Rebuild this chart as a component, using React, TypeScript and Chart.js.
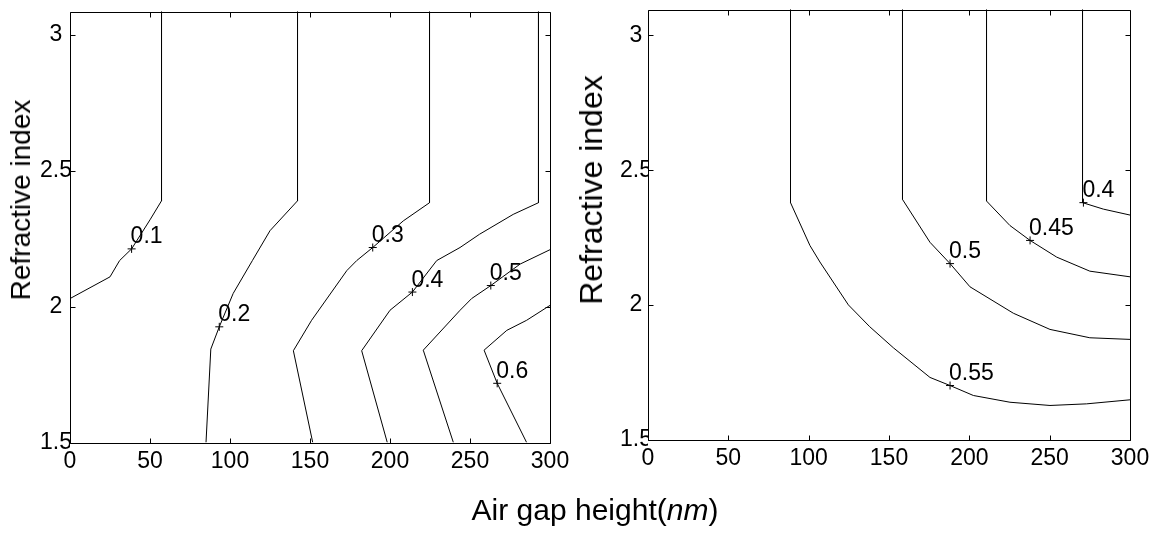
import React, { useEffect, useRef } from "react";
import { Chart, registerables } from "chart.js";

Chart.register(...registerables);

const FONT = "'Liberation Sans', Arial, Helvetica, sans-serif";

// Axis ticks
const xTicks = [0, 50, 100, 150, 200, 250, 300];
const yTicks = [1.5, 2, 2.5, 3];

// ---- Left panel contour lines ----
const leftX01 = [57.2, 57.2, 50, 38.5, 31, 25, 0];
const leftY01 = [3.1, 2.39, 2.32, 2.213, 2.17, 2.11, 2.03];
const leftX02 = [142.2, 142.2, 125, 114, 102, 93.3, 88, 85];
const leftY02 = [3.1, 2.39, 2.28, 2.17, 2.049, 1.926, 1.844, 1.5];
const leftX03 = [224.7, 224.7, 208.3, 189.2, 179.2, 173, 151, 139.6, 151.7];
const leftY03 = [3.1, 2.383, 2.316, 2.218, 2.17, 2.133, 1.95, 1.838, 1.5];
const leftX04 = [292.8, 292.8, 277, 256, 243.75, 229.2, 214, 200, 182.3, 198.3];
const leftY04 = [3.1, 2.383, 2.34, 2.267, 2.218, 2.17, 2.054, 1.987, 1.838, 1.5];
const leftX05 = [300, 281.3, 263, 251, 243.8, 220.8, 239.6];
const leftY05 = [2.21, 2.157, 2.078, 2.03, 1.987, 1.84, 1.5];
const leftX06 = [300, 285.4, 273, 258.8, 267, 285.4];
const leftY06 = [2.005, 1.95, 1.913, 1.84, 1.718, 1.5];

const leftLabelText = ["0.1", "0.2", "0.3", "0.4", "0.5", "0.6"];
const leftLabelX = [38.5, 93.3, 189.2, 214, 263, 267];
const leftLabelY = [2.213, 1.926, 2.218, 2.054, 2.078, 1.718];

// ---- Right panel contour lines ----
const rightX055 = [88.7, 88.7, 100.8, 107, 124.7, 138, 152.7, 175.5, 188, 202.5, 225.3, 250.2, 273, 300];
const rightY055 = [3.1, 2.38, 2.221, 2.16, 2.001, 1.92, 1.842, 1.732, 1.702, 1.665, 1.64, 1.628, 1.634, 1.649];
const rightX050 = [158.4, 158.4, 175.5, 188, 200.4, 227.4, 250.2, 275, 300];
const rightY050 = [3.1, 2.392, 2.233, 2.154, 2.068, 1.97, 1.91, 1.879, 1.873];
const rightX045 = [210.7, 210.7, 225.3, 237.8, 254.4, 275, 300];
const rightY045 = [3.1, 2.386, 2.295, 2.24, 2.178, 2.126, 2.105];
const rightX040 = [270.45, 270.45, 283.4, 300];
const rightY040 = [3.1, 2.38, 2.356, 2.334];

const rightLabelText = ["0.55", "0.5", "0.45", "0.4"];
const rightLabelX = [188, 188, 237.8, 271];
const rightLabelY = [1.702, 2.154, 2.24, 2.38];

const zip = (xs: number[], ys: number[]) => xs.map((x, i) => ({ x, y: ys[i] }));

type PanelProps = {
  lines: { x: number[]; y: number[] }[];
  labelText: string[];
  labelX: number[];
  labelY: number[];
  yMax: number;
  left: number;
  width: number;
  yPad: number;
  area: { left: number; top: number; right: number; bottom: number };
};

function ContourPanel(p: PanelProps) {
  const ref = useRef<HTMLCanvasElement | null>(null);
  useEffect(() => {
    if (!ref.current) return;
    const H = 537;
    const boxPlugin = {
      id: "boxTicks",
      afterDatasetsDraw(chart: any) {
        const ctx = chart.ctx;
        const { left, right, top, bottom } = chart.chartArea;
        const xs = chart.scales.x;
        const ys = chart.scales.y;
        const L = Math.round(left) + 0.5;
        const R = Math.round(right) + 0.5;
        const T = Math.round(top) + 0.5;
        const B = Math.round(bottom) + 0.5;
        ctx.save();
        ctx.strokeStyle = "#000";
        ctx.lineWidth = 1;
        ctx.beginPath();
        ctx.rect(L, T, R - L, B - T);
        xTicks.forEach((v) => {
          const px = Math.round(xs.getPixelForValue(v)) + 0.5;
          ctx.moveTo(px, B);
          ctx.lineTo(px, B - 5);
          ctx.moveTo(px, T);
          ctx.lineTo(px, T + 5);
        });
        yTicks.forEach((v) => {
          const py = Math.round(ys.getPixelForValue(v)) + 0.5;
          ctx.moveTo(L, py);
          ctx.lineTo(L + 5, py);
          ctx.moveTo(R, py);
          ctx.lineTo(R - 5, py);
        });
        ctx.stroke();
        // contour labels
        ctx.fillStyle = "#000";
        ctx.font = `23px ${FONT}`;
        ctx.textAlign = "left";
        ctx.textBaseline = "alphabetic";
        p.labelText.forEach((t, i) => {
          const px = xs.getPixelForValue(p.labelX[i]);
          const py = ys.getPixelForValue(p.labelY[i]);
          ctx.fillText(t, px - 1, py - 5.5);
        });
        ctx.restore();
      },
    };
    const datasets: any[] = p.lines.map((l) => ({
      data: zip(l.x, l.y),
      showLine: true,
      borderColor: "#000",
      borderWidth: 1,
      pointRadius: 0,
      tension: 0,
      fill: false,
    }));
    datasets.push({
      data: zip(p.labelX, p.labelY),
      showLine: false,
      pointStyle: "cross",
      pointRadius: 4,
      borderColor: "#000",
      borderWidth: 1,
      backgroundColor: "#000",
    });
    const chart = new Chart(ref.current, {
      type: "scatter",
      data: { datasets },
      options: {
        animation: false,
        responsive: false,
        maintainAspectRatio: false,
        layout: {
          padding: {
            left: 0,
            top: p.area.top,
            right: p.width - p.area.right,
            bottom: 0,
          },
        },
        plugins: { legend: { display: false }, tooltip: { enabled: false } },
        scales: {
          x: {
            type: "linear",
            min: 0,
            max: 300,
            grid: { display: false, drawTicks: false },
            border: { display: false },
            afterBuildTicks: (s: any) => {
              s.ticks = xTicks.map((v) => ({ value: v }));
            },
            afterFit: (s: any) => {
              s.height = H - p.area.bottom;
            },
            ticks: {
              color: "#000",
              padding: 5,
              font: { family: FONT, size: 23 },
              maxRotation: 0,
              autoSkip: false,
            },
          },
          y: {
            type: "linear",
            min: 1.5,
            max: p.yMax,
            grid: { display: false, drawTicks: false },
            border: { display: false },
            afterBuildTicks: (s: any) => {
              s.ticks = yTicks.map((v) => ({ value: v }));
            },
            afterFit: (s: any) => {
              s.width = p.area.left;
            },
            ticks: {
              color: "#000",
              padding: p.yPad,
              crossAlign: "center",
              font: { family: FONT, size: 23 },
              autoSkip: false,
              callback: (v: any) => String(v),
            },
          },
        },
      },
      plugins: [boxPlugin],
    });
    return () => chart.destroy();
  }, []);
  return (
    <canvas
      ref={ref}
      width={p.width}
      height={537}
      style={{ position: "absolute", left: p.left, top: 0, width: p.width, height: 537 }}
    />
  );
}

const titleStyle: React.CSSProperties = {
  position: "absolute",
  fontFamily: FONT,
  color: "#000",
  whiteSpace: "nowrap",
  lineHeight: 1,
};

export default function App() {
  return (
    <div
      style={{
        position: "fixed",
        left: 0,
        top: 0,
        width: 1169,
        height: 537,
        background: "#fff",
        overflow: "hidden",
      }}
    >
      <ContourPanel
        lines={[
          { x: leftX01, y: leftY01 },
          { x: leftX02, y: leftY02 },
          { x: leftX03, y: leftY03 },
          { x: leftX04, y: leftY04 },
          { x: leftX05, y: leftY05 },
          { x: leftX06, y: leftY06 },
        ]}
        labelText={leftLabelText}
        labelX={leftLabelX}
        labelY={leftLabelY}
        yMax={3.086}
        left={0}
        width={580}
        yPad={-2}
        area={{ left: 70, top: 9.5, right: 550, bottom: 442.5 }}
      />
      <ContourPanel
        lines={[
          { x: rightX055, y: rightY055 },
          { x: rightX050, y: rightY050 },
          { x: rightX045, y: rightY045 },
          { x: rightX040, y: rightY040 },
        ]}
        labelText={rightLabelText}
        labelX={rightLabelX}
        labelY={rightLabelY}
        yMax={3.095}
        left={580}
        width={589}
        yPad={-4}
        area={{ left: 68, top: 5, right: 550, bottom: 440 }}
      />
      <div
        style={{
          ...titleStyle,
          fontSize: 28,
          left: 21,
          top: 200,
          transform: "translate(-50%, -50%) rotate(-90deg)",
        }}
      >
        Refractive index
      </div>
      <div
        style={{
          ...titleStyle,
          fontSize: 32,
          left: 591,
          top: 190,
          transform: "translate(-50%, -50%) rotate(-90deg)",
        }}
      >
        Refractive index
      </div>
      <div
        style={{
          ...titleStyle,
          fontSize: 30,
          left: 595,
          top: 495,
          transform: "translateX(-50%)",
        }}
      >
        Air gap height(<i>nm</i>)
      </div>
    </div>
  );
}
